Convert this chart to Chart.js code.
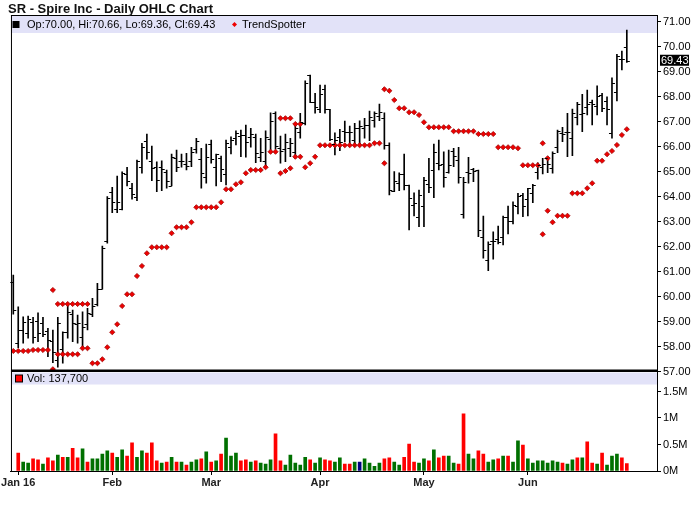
<!DOCTYPE html>
<html>
<head>
<meta charset="utf-8">
<script src="https://cdn.jsdelivr.net/npm/chart.js@4.4.1/dist/chart.umd.min.js"></script>
<style>
html, body { margin: 0; padding: 0; background: #fff; }
canvas { display: block; }
</style>
</head>
<body>
<canvas id="graficoOHLC" width="700" height="512"></canvas>
<script>
// datos (dia -1 = ultimo dia de dic, dia 0 = 4 ene 2016)
const firstDay = -1;

const opens = [60.59,
  58.13, 58.66, 58.55, 59.00, 59.03, 58.93, 58.60, 58.20, 57.46, 57.90, 58.59, 59.30, 58.90, 58.40, 58.90, 59.30, 59.70, 60.30, 62.20,
  64.20, 63.50, 63.50, 64.90, 64.33, 63.99, 65.19, 66.23, 65.43, 65.17, 65.17, 65.00, 64.42, 65.53, 65.40, 65.30, 65.40, 65.90, 65.50, 64.77,
  66.10, 65.17, 65.53, 64.90, 65.97, 66.33, 66.40, 66.46, 66.39, 66.37, 65.59, 65.43, 66.29, 67.35, 65.93, 65.90, 65.93, 65.79, 66.59, 66.93, 68.86, 67.79,
  67.49, 68.29, 67.49, 66.10, 66.39, 66.63, 66.59, 66.26, 66.75, 66.73, 66.86, 67.06, 67.22, 67.13, 66.06, 64.23, 64.53, 64.90, 64.46, 63.66, 63.19,
  63.62, 64.50, 65.06, 65.33, 65.30, 64.99, 65.83, 65.46, 63.30, 64.99, 65.09, 65.06, 62.39, 61.46, 62.20, 62.29, 62.37, 63.19, 63.03, 63.62, 64.06,
  63.89, 64.15, 65.00, 65.20, 65.53, 65.13, 65.97, 66.55, 66.59, 66.33, 67.20, 67.29, 67.60, 67.77, 67.63, 68.06, 67.82, 66.53, 68.17, 69.50, 70.00];

const highs = [60.86,
  59.59, 59.19, 59.22, 59.17, 59.35, 59.17, 58.73, 58.66, 59.17, 58.59, 59.66, 59.46, 59.26, 59.39, 59.53, 59.93, 60.53, 62.02, 64.00,
  64.37, 64.82, 64.99, 65.17, 64.53, 65.46, 66.13, 66.50, 66.02, 65.39, 65.43, 65.06, 65.70, 65.86, 65.70, 65.73, 65.97, 66.33, 65.93, 66.10,
  66.26, 65.70, 65.62, 66.26, 66.39, 66.63, 66.66, 66.86, 66.73, 66.50, 66.33, 66.63, 67.35, 67.39, 66.42, 66.50, 66.33, 66.86, 67.33, 68.63, 68.86, 68.13,
  68.46, 68.46, 67.49, 66.55, 66.69, 67.02, 66.82, 66.93, 67.03, 67.13, 67.42, 67.39, 67.70, 67.35, 66.15, 65.00, 64.95, 65.70, 64.46, 64.15, 64.26,
  64.77, 65.53, 66.10, 66.26, 65.79, 65.86, 65.93, 65.97, 64.77, 65.57, 65.13, 65.06, 63.22, 62.19, 62.59, 62.82, 63.22, 63.62, 63.79, 64.13, 64.13,
  64.33, 64.49, 65.35, 65.53, 65.57, 65.79, 66.66, 66.77, 67.33, 67.50, 67.77, 68.09, 68.26, 67.86, 68.43, 68.13, 67.99, 68.75, 69.69, 69.82, 70.66];

const lows = [59.29,
  57.95, 58.13, 58.33, 58.13, 58.19, 58.39, 57.59, 57.35, 57.17, 57.33, 58.33, 58.19, 58.13, 57.93, 58.66, 59.19, 59.62, 60.29, 62.13,
  63.35, 63.35, 63.46, 64.42, 63.89, 63.83, 64.93, 65.49, 64.63, 64.19, 64.23, 64.33, 64.42, 64.99, 65.17, 65.06, 65.19, 65.73, 64.33, 64.53,
  65.33, 64.42, 64.59, 64.46, 65.70, 66.06, 65.59, 65.57, 65.97, 65.35, 65.39, 65.22, 65.86, 65.89, 65.33, 65.39, 65.59, 65.53, 66.33, 66.86, 67.75, 67.33,
  67.35, 67.33, 66.23, 65.66, 65.83, 66.19, 66.13, 66.02, 66.06, 66.33, 66.23, 66.77, 67.03, 65.89, 64.06, 64.19, 64.23, 64.26, 62.66, 63.22, 62.79,
  62.79, 64.15, 63.95, 65.06, 64.37, 64.93, 65.19, 64.53, 63.13, 64.53, 64.59, 62.39, 61.53, 61.03, 61.49, 62.10, 62.06, 62.50, 62.90, 63.30, 63.19,
  63.22, 63.75, 64.69, 64.90, 64.95, 64.93, 65.75, 66.19, 65.59, 65.63, 66.86, 66.59, 67.26, 66.86, 67.26, 67.39, 66.86, 66.33, 67.82, 69.06, 69.36];

const closes = [59.46,
  58.66, 58.99, 59.09, 58.37, 58.55, 58.50, 58.26, 57.79, 58.93, 58.59, 59.39, 58.95, 58.93, 58.79, 59.35, 59.62, 60.29, 61.95, 63.95,
  63.79, 63.79, 64.93, 64.62, 64.10, 65.43, 65.97, 65.79, 65.13, 64.66, 65.09, 64.63, 65.57, 65.19, 65.43, 65.22, 65.79, 66.23, 64.95, 65.59,
  65.49, 65.70, 65.09, 66.13, 66.26, 66.53, 66.46, 66.19, 66.50, 65.75, 65.79, 66.37, 67.02, 66.02, 65.82, 66.19, 66.13, 66.73, 67.00, 68.53, 67.80, 67.59,
  68.10, 67.49, 66.29, 66.26, 66.19, 66.59, 66.59, 66.75, 66.82, 66.86, 67.19, 67.35, 67.39, 66.06, 64.26, 64.62, 64.89, 64.46, 63.93, 63.73, 64.06,
  64.66, 64.39, 65.79, 65.26, 64.77, 65.26, 65.62, 64.77, 64.59, 64.95, 65.03, 62.66, 61.86, 62.10, 62.20, 62.19, 63.19, 63.03, 63.66, 64.02, 63.62,
  64.33, 64.46, 65.26, 65.30, 65.30, 65.75, 66.63, 66.50, 66.60, 67.33, 67.69, 67.33, 67.69, 67.69, 68.03, 67.55, 67.50, 68.53, 69.63, 69.50, 69.43];

// volumen en millones
const vols = [null,
  0.34, 0.17, 0.15, 0.23, 0.21, 0.13, 0.25, 0.19, 0.30, 0.26, 0.26, 0.43, 0.25, 0.42, 0.17, 0.23, 0.23, 0.32, 0.38,
  0.34, 0.26, 0.40, 0.28, 0.53, 0.26, 0.38, 0.34, 0.53, 0.19, 0.15, 0.17, 0.26, 0.17, 0.17, 0.11, 0.17, 0.21, 0.23, 0.36,
  0.17, 0.19, 0.32, 0.62, 0.28, 0.34, 0.19, 0.21, 0.17, 0.19, 0.15, 0.13, 0.21, 0.70, 0.19, 0.11, 0.30, 0.15, 0.11, 0.26, 0.21, 0.15,
  0.25, 0.21, 0.19, 0.17, 0.25, 0.13, 0.13, 0.17, 0.17, 0.23, 0.15, 0.09, 0.15, 0.23, 0.25, 0.17, 0.11, 0.26, 0.51, 0.17, 0.15,
  0.23, 0.19, 0.40, 0.25, 0.28, 0.28, 0.15, 0.13, 1.08, 0.32, 0.23, 0.38, 0.32, 0.17, 0.21, 0.23, 0.28, 0.28, 0.17, 0.57, 0.49,
  0.23, 0.15, 0.19, 0.19, 0.15, 0.19, 0.17, 0.15, 0.13, 0.21, 0.25, 0.25, 0.55, 0.15, 0.13, 0.34, 0.11, 0.28, 0.32, 0.25, 0.1377];

// u = sube, d = baja, n = igual
const volDir = ['n',
  'd','u','u','d','d','u','d','d','u','d','u','d','d','u','d','u','u','u','u',
  'd','u','u','d','d','u','u','d','d','d','u','d','u','d','u','d','u','u','d','u',
  'd','u','d','u','u','u','d','d','u','d','u','u','u','d','d','u','u','u','u','u','d','u',
  'u','d','d','u','u','d','d','u','n','u','u','u','u','d','d','u','u','d','d','d','u',
  'u','d','u','d','d','u','u','d','d','u','u','d','d','u','u','d','u','d','u','u','d',
  'u','u','u','u','u','u','u','d','u','u','d','u','d','d','u','d','u','u','u','d','d'];

const trend = [57.82,
  57.82, 57.82, 57.82, 57.86, 57.86, 57.86, 57.86, 60.26, 59.70, 59.70, 59.70, 59.70, 59.70, 59.70, 59.70, 57.33, 57.33, 57.49, 57.97,
  58.57, 58.89, 59.62, 60.09, 60.09, 60.82, 61.22, 61.73, 61.97, 61.97, 61.97, 61.97, 62.53, 62.77, 62.77, 62.77, 62.97, 63.57, 63.57, 63.57,
  63.57, 63.57, 63.77, 64.29, 64.29, 64.49, 64.57, 64.93, 65.06, 65.06, 65.06, 65.17, 65.79, 65.79, 67.13, 67.13, 67.13, 66.90, 66.90, 65.17, 65.33, 65.59,
  66.05, 66.05, 66.05, 66.05, 66.05, 66.05, 66.05, 66.05, 66.05, 66.05, 66.05, 66.13, 66.13, 68.29, 68.23, 67.86, 67.53, 67.53, 67.37, 67.37, 67.26,
  66.97, 66.77, 66.77, 66.77, 66.77, 66.77, 66.61, 66.61, 66.61, 66.61, 66.61, 66.50, 66.50, 66.50, 66.50, 65.97, 65.97, 65.97, 65.97, 65.93, 65.25,
  65.25, 65.25, 65.25, 66.13, 65.53, 62.97, 63.23, 63.23, 63.23, 64.13, 64.13, 64.13, 64.33, 64.53, 65.43, 65.43, 65.69, 65.82, 66.06, 66.46, 66.69];

// dias con un segundo punto del TrendSpotter
const trendAltDay = [7, 8, 9, 10, 11, 12, 13, 14, 53, 54, 55, 56, 57, 74, 106, 107];
const trendAltVal = [57.09, 57.69, 57.69, 57.69, 57.69, 57.69, 57.93, 57.93, 64.93, 65.02, 65.13, 65.59, 65.59, 65.33, 62.49, 63.43];

const monthDays = [0, 19, 39, 61, 82, 103];
const monthLabels = ['Jan 16', 'Feb', 'Mar', 'Apr', 'May', 'Jun'];
const priceTicks = [57, 58, 59, 60, 61, 62, 63, 64, 65, 66, 67, 68, 69, 70, 71];
const volTicks = [0, 0.5, 1, 1.5];
const volLabels = ['0M', '0.5M', '1M', '1.5M'];

const days = opens.map((_, i) => i + firstDay);
const last = opens.length - 1;

const barrasPrecio = days.map((d, i) => ({x: d, y: [lows[i], highs[i]]}));
const barrasVol = days.map((d, i) => ({x: d, y: vols[i]}));
const coloresVol = volDir.map(s => s === 'u' ? '#007000' : (s === 'd' ? '#ff0000' : '#000080'));
const puntosTrend = days.map((d, i) => ({x: d, y: trend[i]}))
  .concat(trendAltDay.map((d, i) => ({x: d, y: trendAltVal[i]})));

const fuente = '"Liberation Sans", Arial, sans-serif';
const fmt = v => v.toFixed(2);

const decoracion = {
  id: 'decoracion',
  beforeDatasetsDraw(c) {
    const {ctx, chartArea: a, scales: {yp, yv}} = c;
    ctx.save();
    ctx.fillStyle = '#e2e2f8';
    ctx.fillRect(a.left, yp.top + 1, a.right - a.left, 17);
    ctx.fillRect(a.left, yv.top + 1, a.right - a.left, 12);
    ctx.restore();
  },
  afterDatasetsDraw(c) {
    const {ctx, scales: {x, yp}} = c;
    ctx.save();
    ctx.strokeStyle = '#000';
    ctx.lineWidth = 1;
    ctx.beginPath();
    days.forEach((d, i) => {
      const px = x.getPixelForValue(d);
      const yo = Math.round(yp.getPixelForValue(opens[i])) + 0.5;
      const yc = Math.round(yp.getPixelForValue(closes[i])) + 0.5;
      ctx.moveTo(px - 3, yo); ctx.lineTo(px, yo);
      ctx.moveTo(px, yc); ctx.lineTo(px + 3, yc);
    });
    ctx.stroke();
    ctx.restore();
  },
  afterDraw(c) {
    const {ctx, chartArea: a, scales: {yp, yv}} = c;
    ctx.save();
    // marco
    ctx.fillStyle = '#000';
    ctx.fillRect(a.left, a.top, 1, a.bottom - a.top);
    ctx.fillRect(a.left, a.top, a.right - a.left, 1);
    ctx.fillRect(a.left, yp.bottom - 2, a.right - a.left + 1, 2.5);

    // titulo
    ctx.textBaseline = 'middle';
    ctx.font = 'bold 13px ' + fuente;
    ctx.fillStyle = '#111';
    ctx.fillText('SR - Spire Inc - Daily OHLC Chart', 8, 9);

    // leyenda precio
    ctx.font = '11px ' + fuente;
    ctx.fillStyle = '#000';
    ctx.fillRect(12.5, 21, 7, 7);
    ctx.fillText('Op:' + fmt(opens[last]) + ', Hi:' + fmt(highs[last]) + ', Lo:' + fmt(lows[last]) + ', Cl:' + fmt(closes[last]), 27, yp.top + 10);
    ctx.fillStyle = '#ee0000';
    ctx.beginPath();
    ctx.moveTo(234.5, 22); ctx.lineTo(237, 24.5); ctx.lineTo(234.5, 27); ctx.lineTo(232, 24.5);
    ctx.closePath(); ctx.fill();
    ctx.fillStyle = '#000';
    ctx.fillText('TrendSpotter', 242, yp.top + 10);

    // leyenda volumen
    ctx.fillStyle = '#ff0000';
    ctx.fillRect(15.5, yv.top + 3.5, 7, 7);
    ctx.strokeStyle = '#000';
    ctx.lineWidth = 1;
    ctx.strokeRect(15.5, yv.top + 3.5, 7, 7);
    ctx.fillStyle = '#000';
    ctx.fillText('Vol: ' + Math.round(vols[last] * 1e6).toLocaleString('en-US'), 27, yv.top + 7.5);

    // ultimo precio
    const yl = yp.getPixelForValue(closes[last]);
    ctx.fillRect(660, yl - 6, 29, 11);
    ctx.fillStyle = '#fff';
    ctx.fillText(fmt(closes[last]), 661, yl);
    ctx.restore();
  }
};

const ctxOHLC = document.getElementById('graficoOHLC').getContext('2d');
const graficoOHLC = new Chart(ctxOHLC, {
  type: 'bar',
  data: {
    datasets: [{
      type: 'scatter',
      label: 'TrendSpotter',
      data: puntosTrend,
      yAxisID: 'yp',
      pointStyle: 'rectRot',
      pointRadius: 2.6,
      pointBackgroundColor: '#ee0000',
      pointBorderColor: '#a00000',
      pointBorderWidth: 0.8,
      order: 0
    }, {
      type: 'bar',
      label: 'OHLC',
      data: barrasPrecio,
      yAxisID: 'yp',
      backgroundColor: '#000',
      barThickness: 1,
      grouped: false,
      order: 1
    }, {
      type: 'bar',
      label: 'Vol',
      data: barrasVol,
      yAxisID: 'yv',
      backgroundColor: coloresVol,
      barThickness: 3,
      grouped: false,
      order: 2
    }]
  },
  options: {
    responsive: false,
    animation: false,
    layout: {padding: {left: 10, top: 15, right: 0, bottom: 0}},
    plugins: {legend: {display: false}, tooltip: {enabled: false}},
    scales: {
      x: {
        type: 'linear',
        min: -1.47,
        max: 129.1,
        offset: false,
        afterFit: s => { s.height = 41; },
        afterBuildTicks: s => { s.ticks = monthDays.map(v => ({value: v})); },
        ticks: {
          autoSkip: false, maxRotation: 0, padding: 1, color: '#222',
          font: {family: fuente, size: 11, weight: 'bold'},
          callback: v => monthLabels[monthDays.indexOf(v)]
        },
        grid: {drawOnChartArea: false, tickLength: 4, color: '#000', offset: false},
        border: {color: '#000'}
      },
      yp: {
        type: 'linear',
        position: 'right',
        stack: 'panel',
        stackWeight: 356.5,
        min: 57,
        max: 71.26,
        afterFit: s => { s.width = 43; },
        afterBuildTicks: s => { s.ticks = priceTicks.map(v => ({value: v})); },
        ticks: {autoSkip: false, padding: 2, color: '#000', font: {family: fuente, size: 11}, callback: v => v.toFixed(2)},
        grid: {drawOnChartArea: false, tickLength: 4, color: '#000'},
        border: {color: '#000'}
      },
      yv: {
        type: 'linear',
        position: 'right',
        stack: 'panel',
        stackWeight: 99.5,
        min: 0,
        max: 1.877,
        afterFit: s => { s.width = 43; },
        afterBuildTicks: s => { s.ticks = volTicks.map(v => ({value: v})); },
        ticks: {autoSkip: false, padding: 2, color: '#000', font: {family: fuente, size: 11}, callback: v => volLabels[volTicks.indexOf(v)]},
        grid: {drawOnChartArea: false, tickLength: 4, color: '#000'},
        border: {color: '#000'}
      }
    }
  },
  plugins: [decoracion]
});
</script>
</body>
</html>
